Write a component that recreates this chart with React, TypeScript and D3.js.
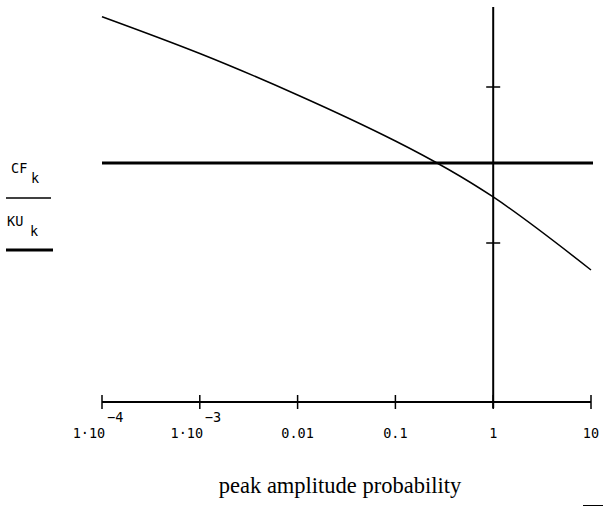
import React from "react";
import * as d3 from "d3";

const probabilities = [1e-4, 1e-3, 0.01, 0.1, 1, 10];
const cfValues = [3.451, 3.215, 2.949, 2.654, 2.295, 1.827];
const kuValue = 2.513;
const xTickValues = [1e-4, 1e-3, 0.01, 0.1, 1, 10];
const xTickMantissa = ["1·10", "1·10", "0.01", "0.1", "1", "10"];
const xTickExponent = ["−4", "−3", "", "", "", ""];
const yTickValues = [2, 3];
const xTitle = "peak amplitude probability";

export default function App() {
  const W = 603;
  const H = 507;
  const x = d3.scaleLog().domain([1e-4, 10]).range([102, 591]);
  const y = d3.scaleLinear().domain([2, 3]).range([243, 87]);
  const yBottom = y.invert(402);
  const yTop = y.invert(7);

  const pts: [number, number][] = probabilities.map((p, i) => [p, cfValues[i]]);
  const line = d3
    .line<[number, number]>()
    .x((d) => x(d[0]))
    .y((d) => y(d[1]))
    .curve(d3.curveNatural);

  const mono = "'DejaVu Sans Mono', 'Liberation Mono', monospace";
  const fs = 13.5;

  return (
    <svg
      width={W}
      height={H}
      style={{ position: "absolute", left: 0, top: 0, background: "#fff" }}
    >
      <path d={line(pts) || ""} fill="none" stroke="#000" strokeWidth={1.5} />
      <line
        x1={x(1e-4)}
        x2={x(10) + 2}
        y1={y(kuValue)}
        y2={y(kuValue)}
        stroke="#000"
        strokeWidth={3}
      />
      <line x1={x(1e-4)} x2={x(10)} y1={y(yBottom)} y2={y(yBottom)} stroke="#000" strokeWidth={2} />
      {xTickValues.map((v, i) => (
        <g key={i}>
          <line
            x1={x(v)}
            x2={x(v)}
            y1={y(yBottom) - 7}
            y2={y(yBottom) + 7}
            stroke="#000"
            strokeWidth={1.5}
          />
          <text
            x={x(v) - (xTickExponent[i] ? 13 : 0)}
            y={438}
            textAnchor="middle"
            fontFamily={mono}
            fontSize={fs}
            fill="#000"
          >
            {xTickMantissa[i]}
          </text>
          {xTickExponent[i] ? (
            <text
              x={x(v) + 5}
              y={422}
              textAnchor="start"
              fontFamily={mono}
              fontSize={fs}
              fill="#000"
            >
              {xTickExponent[i]}
            </text>
          ) : null}
        </g>
      ))}
      <line x1={x(1)} x2={x(1)} y1={y(yTop)} y2={y(yBottom) + 6} stroke="#000" strokeWidth={2} />
      {yTickValues.map((v) => (
        <line
          key={v}
          x1={x(1) - 7}
          x2={x(1) + 7}
          y1={y(v)}
          y2={y(v)}
          stroke="#000"
          strokeWidth={1.5}
        />
      ))}
      <text x={11} y={173} fontFamily={mono} fontSize={fs} fill="#000">
        CF
      </text>
      <text x={31} y={183} fontFamily={mono} fontSize={fs} fill="#000">
        k
      </text>
      <line x1={6} x2={51} y1={198} y2={198} stroke="#000" strokeWidth={1.5} />
      <text x={7} y={226} fontFamily={mono} fontSize={fs} fill="#000">
        KU
      </text>
      <text x={30} y={236} fontFamily={mono} fontSize={fs} fill="#000">
        k
      </text>
      <line x1={6} x2={53} y1={250} y2={250} stroke="#000" strokeWidth={3} />
      <text
        x={340}
        y={493}
        textAnchor="middle"
        fontFamily="'Liberation Serif', 'DejaVu Serif', serif"
        fontSize={22.5}
        fill="#000"
      >
        {xTitle}
      </text>
      <line x1={583} x2={603} y1={505.5} y2={505.5} stroke="#000" strokeWidth={1} />
    </svg>
  );
}
